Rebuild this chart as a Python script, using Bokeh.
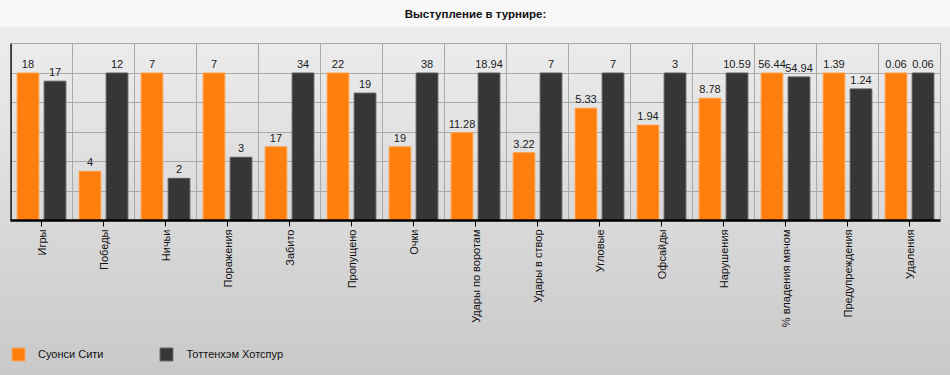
import math
from bokeh.plotting import figure
from bokeh.layouts import column
from bokeh.models import ColumnDataSource, FixedTicker, Grid, Span, Legend, LegendItem, Title, Range1d
from bokeh.transform import dodge
from bokeh.embed import file_html
from bokeh.resources import INLINE
from bokeh.core.properties import value

categories = ["Игры", "Победы", "Ничьи", "Поражения", "Забито", "Пропущено", "Очки",
              "Удары по воротам", "Удары в створ", "Угловые", "Офсайды", "Нарушения",
              "% владения мячом", "Предупреждения", "Удаления"]
swansea = [18, 4, 7, 7, 17, 22, 19, 11.28, 3.22, 5.33, 1.94, 8.78, 56.44, 1.39, 0.06]
tottenham = [17, 12, 2, 3, 34, 19, 38, 18.94, 7, 7, 3, 10.59, 54.94, 1.24, 0.06]
team_names = ["Суонси Сити", "Тоттенхэм Хотспур"]
title_text = "Выступление в турнире:"
grid_steps = [0, 0.2, 0.4, 0.6, 0.8, 1.0, 1.2]

ORANGE = "#ff7f0e"
DARK = "#363636"
ORANGE_EDGE = "#ffa04a"
DARK_EDGE = "#5a5a5a"
FONT = "Liberation Sans"

n = len(categories)
xc = [i + 0.5 for i in range(n)]
mx = [max(a, b) for a, b in zip(swansea, tottenham)]
src = ColumnDataSource(dict(
    x=xc,
    s=[a / m for a, m in zip(swansea, mx)],
    t=[b / m for b, m in zip(tottenham, mx)],
    s_lbl=["%g" % a for a in swansea],
    t_lbl=["%g" % b for b in tottenham],
))

p = figure(width=950, height=330, x_range=(0, n), y_range=(0, grid_steps[-1]),
           output_backend="svg", toolbar_location=None, y_axis_location=None,
           min_border_left=10, min_border_right=10, min_border_top=42, min_border_bottom=109)
p.title = None
p.border_fill_color = None
p.background_fill_color = None
p.outline_line_color = "#a9a9a9"

# spacer panel next to the frame, then the title above it
spacer = Title(text=" ", text_font_size="1px", standoff=15)
p.add_layout(spacer, "above")
t = Title(text=title_text, align="center", text_font=FONT, text_font_size="11.5px",
          text_font_style="bold", text_color="#111111", standoff=11)
p.add_layout(t, "above")

r1 = p.vbar(x=dodge("x", -0.218, range=p.x_range), top="s", width=0.35, source=src,
            fill_color=ORANGE, line_color=ORANGE_EDGE, line_width=1)
r2 = p.vbar(x=dodge("x", 0.218, range=p.x_range), top="t", width=0.35, source=src,
            fill_color=DARK, line_color=DARK_EDGE, line_width=1)

p.text(x=dodge("x", -0.218, range=p.x_range), y="s", text="s_lbl", source=src,
       text_align="center", text_baseline="bottom", y_offset=-5,
       text_font=value(FONT), text_font_size="11px", text_color="#1a1a22")
p.text(x=dodge("x", 0.218, range=p.x_range), y="t", text="t_lbl", source=src,
       text_align="center", text_baseline="bottom", y_offset=-5,
       text_font=value(FONT), text_font_size="11px", text_color="#1a1a22")

ax = p.xaxis[0]
ax.ticker = FixedTicker(ticks=xc)
ax.major_label_overrides = {x: c for x, c in zip(xc, categories)}
ax.major_label_orientation = math.pi / 2
ax.axis_line_width = 2.5
ax.axis_line_color = "black"
ax.major_tick_out = 6
ax.major_tick_in = 0
ax.major_tick_line_color = "black"
ax.minor_tick_line_color = None
ax.major_label_standoff = 3
ax.major_label_text_font = FONT
ax.major_label_text_font_size = "11px"
ax.major_label_text_color = "#111111"

p.xgrid.ticker = FixedTicker(ticks=list(range(n + 1)))
p.xgrid.grid_line_color = "#a9a9a9"
p.add_layout(Grid(dimension=1, ticker=FixedTicker(ticks=grid_steps), grid_line_color="#a9a9a9"))
p.add_layout(Span(location=0, dimension="height", line_color="black", line_width=2.5))

# legend strip below the chart (its bars lie outside its visible range; only the swatches show)
q = figure(width=950, height=45, output_backend="svg", toolbar_location=None,
           x_range=(0, n), y_range=Range1d(10, 11),
           x_axis_location=None, y_axis_location=None,
           min_border_left=0, min_border_right=0, min_border_top=0, min_border_bottom=0)
q.title = None
q.border_fill_color = None
q.background_fill_color = None
q.outline_line_color = None
q.grid.visible = False
l1 = q.vbar(x="x", top="s", width=0.35, source=src, fill_color=ORANGE, line_color=ORANGE_EDGE)
l2 = q.vbar(x="x", top="t", width=0.35, source=src, fill_color=DARK, line_color=DARK_EDGE)
legend = Legend(items=[LegendItem(label=team_names[0], renderers=[l1], index=0),
                       LegendItem(label=team_names[1], renderers=[l2], index=0)],
                orientation="horizontal", location=(0, 13), glyph_width=16, glyph_height=16,
                label_standoff=12, spacing=55, label_text_font=FONT, label_text_font_size="11px",
                label_text_color="#111111", background_fill_alpha=0, border_line_color=None,
                margin=0, padding=0)
q.add_layout(legend)

layout = column(p, q, spacing=0)
layout.styles = {"background": "linear-gradient(to bottom, #f8f8f8 0px, #f8f8f8 27px, #ededed 27px, #c9c9c9 100%)"}

open("out.html", "w").write(file_html(layout, INLINE))
